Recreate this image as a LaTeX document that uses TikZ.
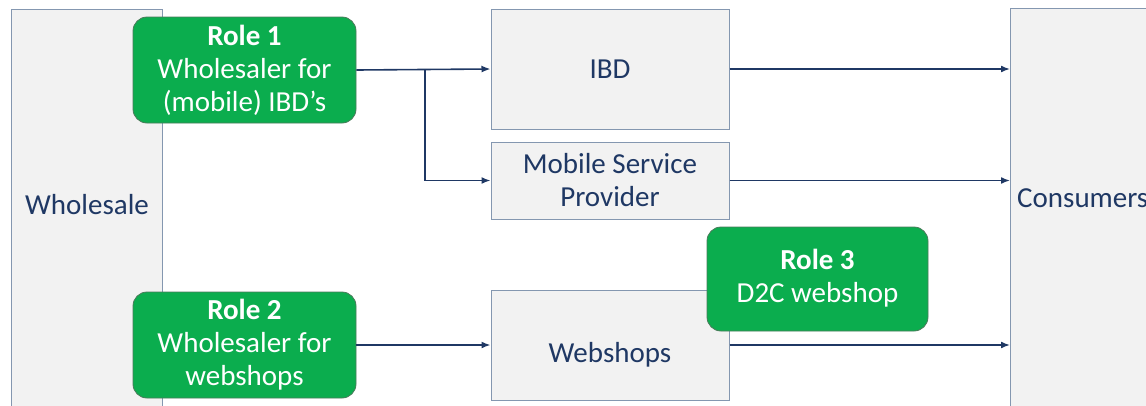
\documentclass[tikz,border=0pt]{standalone}
\usepackage{fontspec}
\setmainfont{Carlito}
\usetikzlibrary{arrows.meta}
\definecolor{navy}{HTML}{1F3864}
\definecolor{boxfill}{HTML}{F2F2F2}
\definecolor{boxline}{HTML}{8497B0}
\definecolor{rolegreen}{HTML}{0BAD4E}
\definecolor{roleline}{HTML}{4A7A5A}
\begin{document}
\begin{tikzpicture}[x=1pt,y=1pt,
  graybox/.style={draw=boxline,fill=boxfill,line width=1pt,rectangle,inner sep=0pt,
    text=navy,font=\fontsize{29}{33}\selectfont,align=center},
  rolebox/.style={draw=roleline,fill=rolegreen,line width=0.8pt,rounded corners=14pt,
    inner sep=0pt,text=white,font=\fontsize{29}{33}\selectfont,align=center},
  flow/.style={draw=navy,line width=1.6pt,-{Latex[length=9pt,width=7pt]}},
  plain/.style={text=navy,font=\fontsize{29}{33}\selectfont,inner sep=0pt}]
\useasboundingbox (0,0) rectangle (1146,-405);
\clip (0,0) rectangle (1146,-405);
% big side boxes
\node[graybox,minimum width=151pt,minimum height=420pt] (whole) at (86.5,-219) {};
\node[plain] (wtext) at (87,-205) {Wholesale};
\node[graybox,minimum width=160pt,minimum height=420pt,anchor=north west] (cons) at (1010,-8) {};
\node[plain,anchor=west] (ctext) at (1017,-198) {Consumers};
% middle boxes
\node[graybox,minimum width=238pt,minimum height=120pt] (ibd) at (610,-69) {IBD};
\node[graybox,minimum width=238pt,minimum height=77pt] (msp) at (610,-180.5) {Mobile Service\\Provider};
\node[graybox,minimum width=238pt,minimum height=110pt] (web) at (610,-345) {\raisebox{-17pt}[0pt][0pt]{Webshops}};
% role boxes
\node[rolebox,minimum width=223pt,minimum height=106pt] (role1) at (244.5,-70)
  {\textbf{Role 1}\\Wholesaler for\\(mobile) IBD’s};
\node[rolebox,minimum width=223pt,minimum height=106pt] (role2) at (244.5,-345)
  {\textbf{Role 2}\\Wholesaler for\\webshops};
\node[rolebox,minimum width=221pt,minimum height=104pt] (role3) at (817.5,-279)
  {\raisebox{-3pt}{\begin{tabular}{@{}c@{}}\textbf{Role 3}\\D2C webshop\end{tabular}}};
% connectors
\coordinate (br) at (425,-70);
\draw[flow] (role1.east) -- (ibd.west);
\draw[flow] (br) |- (msp.west);
\draw[flow] (ibd.east) -- (ibd.east -| cons.west);
\draw[flow] (msp.east) -- (msp.east -| cons.west);
\draw[flow] (role2.east) -- (web.west);
\draw[flow] (web.east) -- (web.east -| cons.west);
\end{tikzpicture}
\end{document}
